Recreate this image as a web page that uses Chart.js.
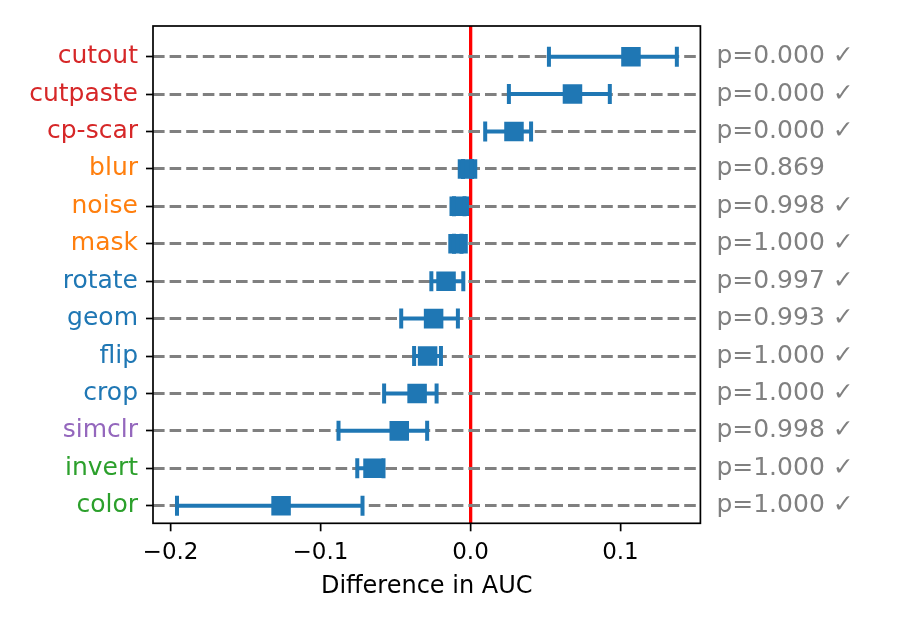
<!DOCTYPE html>
<html>
<head>
<meta charset="utf-8">
<script src="https://cdn.jsdelivr.net/npm/chart.js@4.4.1/dist/chart.umd.min.js"></script>
<style>
    html, body { margin: 0; padding: 0; background: #ffffff; }
    canvas { display: block; }
</style>
</head>
<body>
<canvas id="auc-diff" width="900" height="630"></canvas>
<script>
const augNames = ["cutout", "cutpaste", "cp-scar", "blur", "noise", "mask", "rotate",
    "geom", "flip", "crop", "simclr", "invert", "color"];
const nameColors = ["#d62728", "#d62728", "#d62728", "#ff7f0e", "#ff7f0e", "#ff7f0e",
    "#1f77b4", "#1f77b4", "#1f77b4", "#1f77b4", "#9467bd", "#2ca02c", "#2ca02c"];
const meanDiff = [0.107, 0.068, 0.029, -0.002, -0.0075, -0.0083, -0.0163,
    -0.0246, -0.0286, -0.0356, -0.0475, -0.065, -0.1263];
const ciLow = [0.0523, 0.0256, 0.0098, -0.005, -0.011, -0.011, -0.0261,
    -0.0462, -0.0376, -0.0576, -0.088, -0.0755, -0.1957];
const ciHigh = [0.1376, 0.0929, 0.0404, 0.001, -0.004, -0.006, -0.0048,
    -0.0084, -0.0197, -0.0226, -0.0289, -0.058, -0.072];
const pValues = ["0.000", "0.000", "0.000", "0.869", "0.998", "1.000", "0.997",
    "0.993", "1.000", "1.000", "0.998", "1.000", "1.000"];
const significant = [true, true, true, false, true, true, true, true, true, true, true, true, true];
const xTickValues = [-0.2, -0.1, 0.0, 0.1];

const blue = "#1f77b4";
Chart.defaults.font.family = "DejaVu Sans";
Chart.defaults.font.size = 25;
Chart.defaults.color = "#000000";

function fmtTick(v) {
    if (Math.abs(v) < 1e-9) return "0.0";
    return (v < 0 ? "\u2212" : "") + Math.abs(v).toFixed(1);
}

// error bar lines, one small dataset per row
const errLines = augNames.map((n, i) => ({
    type: "scatter",
    showLine: true,
    data: [{x: ciLow[i], y: i}, {x: ciHigh[i], y: i}],
    borderColor: blue,
    borderWidth: 4,
    pointRadius: 0,
    order: 3
}));

const caps = {
    type: "scatter",
    data: augNames.flatMap((n, i) => [{x: ciLow[i], y: i}, {x: ciHigh[i], y: i}]),
    pointStyle: "line",
    rotation: 90,
    pointRadius: 10,
    borderColor: blue,
    pointBorderWidth: 4,
    order: 1
};

const squares = {
    type: "scatter",
    data: augNames.map((n, i) => ({x: meanDiff[i], y: i})),
    pointStyle: "rect",
    pointRadius: 13.8,
    backgroundColor: blue,
    pointBorderWidth: 0,
    order: 2
};

const framePlugin = {
    id: "frame",
    afterDraw(chart) {
        const a = chart.chartArea;
        const ctx = chart.ctx;
        ctx.save();
        ctx.strokeStyle = "#000000";
        ctx.lineWidth = 1.7;
        ctx.strokeRect(a.left, a.top, a.right - a.left, a.bottom - a.top);
        ctx.restore();
    }
};

const yMin = -0.82, yMax = 12.47;

new Chart(document.getElementById("auc-diff"), {
    type: "scatter",
    data: {datasets: [...errLines, squares, caps]},
    options: {
        responsive: false,
        animation: false,
        devicePixelRatio: 1,
        layout: {padding: {top: 26, left: 0, right: 0, bottom: 0}},
        plugins: {legend: {display: false}, tooltip: {enabled: false}},
        scales: {
            x: {
                type: "linear",
                min: -0.2117,
                max: 0.1533,
                z: 1,
                afterBuildTicks: s => { s.ticks = xTickValues.map(v => ({value: v})); },
                afterFit: s => { s.height = 106.7; },
                border: {display: false},
                grid: {
                    color: c => (c.tick && Math.abs(c.tick.value) < 1e-9) ? "#ff0000" : "rgba(0,0,0,0)",
                    lineWidth: 3.3,
                    tickColor: "#000000",
                    tickWidth: 1.7,
                    tickLength: 8,
                    tickBorderDash: []
                },
                ticks: {autoSkip: false, maxRotation: 0, padding: 8, font: {size: 23},
                    callback: v => fmtTick(v)},
                title: {display: true, text: "Difference in AUC", font: {size: 24},
                    padding: {top: 0, bottom: 29}}
            },
            y: {
                type: "linear",
                position: "left",
                min: yMin,
                max: yMax,
                reverse: true,
                afterBuildTicks: s => { s.ticks = augNames.map((n, i) => ({value: i})); },
                afterFit: s => { s.width = 153; },
                border: {display: false, dash: [11.6, 5]},
                grid: {
                    color: "#808080",
                    lineWidth: 3,
                    tickColor: "#000000",
                    tickWidth: 1.7,
                    tickLength: 7,
                    tickBorderDash: []
                },
                ticks: {
                    autoSkip: false,
                    padding: 8,
                    color: c => nameColors[c.tick ? c.tick.value : c.index] || "#000",
                    callback: v => augNames[v]
                }
            },
            y2: {
                type: "linear",
                position: "right",
                min: yMin,
                max: yMax,
                reverse: true,
                afterBuildTicks: s => { s.ticks = augNames.map((n, i) => ({value: i})); },
                afterFit: s => { s.width = 199.6; },
                border: {display: false},
                grid: {display: false, drawOnChartArea: false},
                ticks: {
                    autoSkip: false,
                    padding: 8,
                    color: "#808080",
                    callback: v => "p=" + pValues[v] + (significant[v] ? " \u2713" : "")
                }
            }
        }
    },
    plugins: [framePlugin]
});
</script>
</body>
</html>
